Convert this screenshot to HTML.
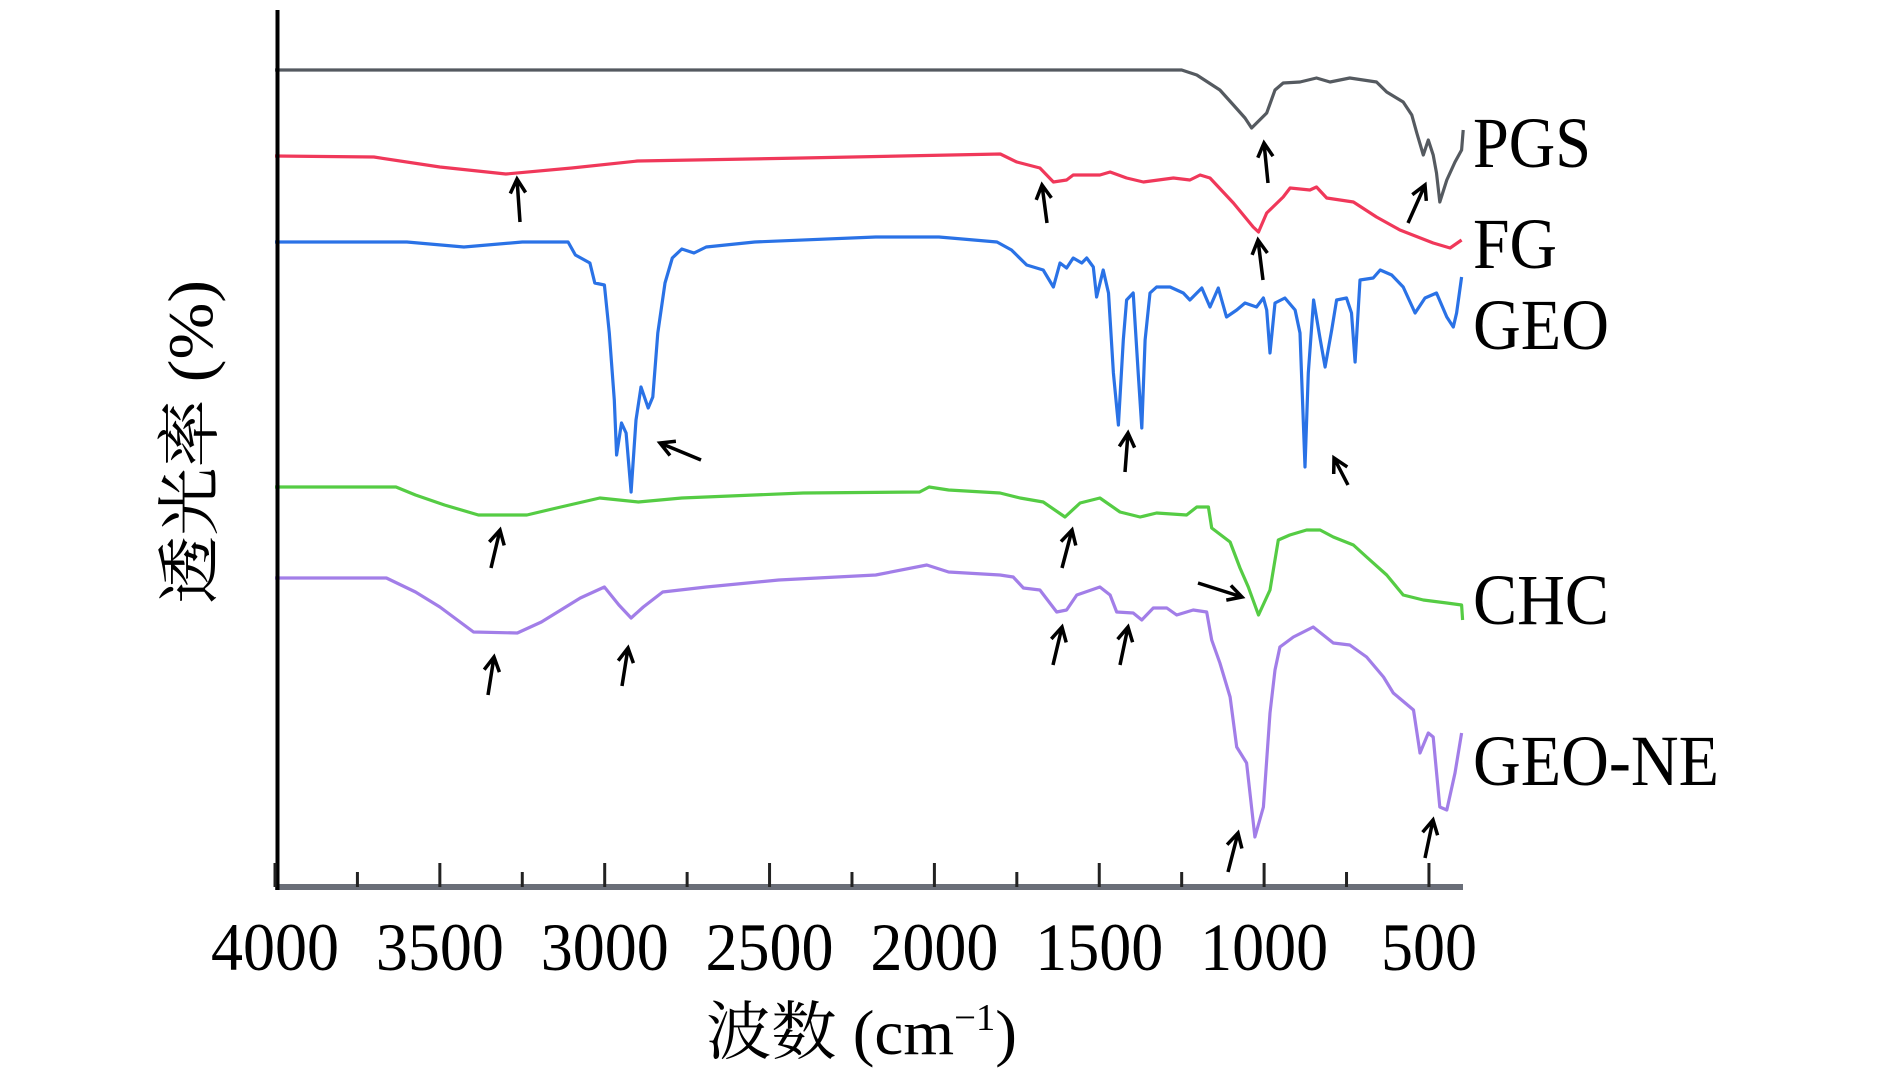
<!DOCTYPE html>
<html><head><meta charset="utf-8"><style>
html,body{margin:0;padding:0;background:#fff;}
svg{display:block;}
text{font-family:"Liberation Serif","Noto Serif CJK SC",serif;fill:#000;}
</style></head><body>
<svg id="chart" width="1890" height="1079" viewBox="0 0 1890 1079" xmlns="http://www.w3.org/2000/svg">
<g id="series"></g>
<g id="arrows"></g>
<g id="axes"></g>
</svg>
<script>
const xTicks=[4000,3750,3500,3250,3000,2750,2500,2250,2000,1750,1500,1250,1000,750,500];
const xTickLabels=["4000","3500","3000","2500","2000","1500","1000","500"];
const seriesNames=["PGS","FG","GEO","CHC","GEO-NE"];
const pgsWn=[4000,1250,1204,1134,1093,1058,1038,992,967,942,891,841,800,740,659,628,578,552,537,517,502,487,477,467,446,421,401,396];
const pgsT=[817,817,812,797,782,769,759,774,797,804,805,809,805,809,805,795,785,772,754,732,747,732,714,685,707,725,737,757];
const fgWn=[4000,3700,3500,3300,3100,2900,2400,1800,1750,1680,1639,1599,1579,1498,1467,1417,1366,1275,1225,1194,1164,1093,1033,1017,992,942,921,861,841,810,729,659,588,487,436,401];
const fgT=[731,730,720,713,719,726,729,733,725,719,705,707,712,712,715,709,705,709,707,712,709,684,660,655,674,690,699,697,700,689,685,670,657,644,639,647];
const geoWn=[4000,3600,3427,3250,3111,3089,3045,3030,3001,2986,2971,2964,2949,2935,2920,2905,2890,2868,2854,2839,2817,2795,2766,2729,2692,2545,2178,1986,1810,1766,1720,1670,1639,1619,1599,1579,1553,1538,1518,1508,1488,1472,1457,1442,1427,1417,1397,1382,1371,1361,1346,1326,1285,1245,1225,1189,1164,1139,1114,1083,1058,1023,1002,992,982,967,937,906,891,876,866,850,831,815,795,780,750,735,724,709,669,648,613,578,542,512,477,446,426,416,401];
const geoT=[645,645,640,645,645,632,624,604,602,554,487,432,464,454,395,467,500,479,490,554,604,629,638,634,640,645,650,650,645,637,622,617,600,624,619,629,624,629,620,590,617,594,514,462,547,587,594,514,459,547,594,600,600,594,587,599,580,599,570,577,584,580,589,577,534,584,589,577,554,420,514,587,550,520,557,587,589,574,525,607,609,617,612,600,574,589,594,570,560,574,610];
const chcWn=[4000,3633,3574,3486,3383,3236,3133,3015,2898,2766,2398,2045,2016,1957,1801,1740,1670,1604,1558,1498,1437,1376,1326,1235,1204,1169,1159,1103,1073,1048,1017,982,957,922,871,830,790,729,689,628,578,517,446,401,398];
const chcT=[400,400,392,382,372,372,380,389,385,389,394,395,400,397,394,389,385,370,384,389,375,370,374,372,380,380,359,345,319,300,272,297,347,352,357,357,350,342,330,312,292,287,284,282,267];
const geoneWn=[4000,3662,3574,3500,3398,3265,3192,3074,3001,2957,2920,2883,2824,2692,2472,2178,2023,1957,1801,1761,1730,1680,1629,1599,1568,1498,1467,1447,1397,1371,1336,1295,1265,1215,1174,1159,1134,1103,1083,1053,1028,1002,982,967,952,911,851,790,740,689,638,608,547,527,502,487,467,446,421,401];
const geoneT=[309,309,295,280,255,254,265,289,300,282,269,280,295,300,307,312,322,315,312,310,299,297,275,277,292,300,292,275,274,267,279,279,272,277,275,247,224,190,140,124,50,80,174,217,240,250,260,244,242,230,210,194,177,134,154,150,80,77,114,154];
const seriesColors=["#555a60","#f0385a","#2a72e6","#55cc44","#a27ee8"];
const labelBaselines=[167,268,349,624,785];
const labelWidths=[118,84,136,136,246];

const X0=275, PXU=0.3297, Y0=887;
function xScale(wn){return X0+(4000-wn)*PXU;}
function yScale(t){return Y0-t;}
const NS="http://www.w3.org/2000/svg";
function mk(tag,attrs,parent){const e=document.createElementNS(NS,tag);for(const k in attrs)e.setAttribute(k,attrs[k]);parent.appendChild(e);return e;}

const sg=document.getElementById('series');
const allWn=[pgsWn,fgWn,geoWn,chcWn,geoneWn], allT=[pgsT,fgT,geoT,chcT,geoneT];
allWn.forEach((w,i)=>{
  const pts=w.map((v,j)=>xScale(v).toFixed(1)+","+yScale(allT[i][j]).toFixed(1)).join(" ");
  const pl=mk('polyline',{points:pts,fill:'none',stroke:seriesColors[i],'stroke-width':3.2,'stroke-linejoin':'round'},sg);
  
  
  const t=mk('text',{x:1473,y:labelBaselines[i],'font-size':72,textLength:labelWidths[i],lengthAdjust:'spacingAndGlyphs'},sg);
  t.textContent=seriesNames[i];
  
  
});

const arrowCoords=[[1268,183,1264,143],[1408,223,1425,185],[520,222,517,179],[1047,223,1042,185],[1263,280,1258,240],[701,460,660,443],[1125,472,1128,433],[1348,485,1334,458],[491,568,500,530],[1062,568,1072,530],[1198,583,1242,597],[1053,665,1062,627],[1120,665,1128,627],[1228,872,1238,833],[1425,858,1433,820],[488,695,494,657],[622,686,628,648]];
const ag=document.getElementById('arrows');
arrowCoords.forEach(a=>{
  const [x1,y1,x2,y2]=a;const ang=Math.atan2(y2-y1,x2-x1);const L=16,W=0.5;
  const p1=[x2-L*Math.cos(ang-W),y2-L*Math.sin(ang-W)],p2=[x2-L*Math.cos(ang+W),y2-L*Math.sin(ang+W)];
  const p=mk('path',{d:`M${x1},${y1}L${x2},${y2}M${p1[0].toFixed(1)},${p1[1].toFixed(1)}L${x2},${y2}L${p2[0].toFixed(1)},${p2[1].toFixed(1)}`,fill:'none',stroke:'#000','stroke-width':3.5},ag);
  
  
});

const ax=document.getElementById('axes');
const xa=mk('line',{x1:X0,y1:Y0,x2:1463,y2:Y0,stroke:'#6a6e78','stroke-width':6},ax);


const ya=mk('line',{x1:277.5,y1:10,x2:277.5,y2:890,stroke:'#000','stroke-width':4},ax);


xTicks.forEach(v=>{
  const major=v%500===0;
  const tk=mk('line',{x1:xScale(v),y1:Y0-(major?24:15),x2:xScale(v),y2:Y0,stroke:'#222','stroke-width':3},ax);
  
  
});
xTickLabels.forEach(s=>{
  const v=+s;
  const t=mk('text',{x:xScale(v),y:970,'font-size':68,'text-anchor':'middle',textLength:s.length*32,lengthAdjust:'spacingAndGlyphs'},ax);
  t.textContent=s;
  
  
});
const xt=mk('text',{x:706,y:1054,'font-size':64,textLength:311,lengthAdjust:'spacingAndGlyphs'},ax);
xt.innerHTML='波数 (cm<tspan dy="-24" font-size="38">−1</tspan><tspan dy="24">)</tspan>';


const yt=mk('text',{x:0,y:0,'font-size':64,'text-anchor':'middle',transform:'translate(212,442) rotate(-90)',textLength:324,lengthAdjust:'spacingAndGlyphs'},ax);
yt.textContent='透光率 (%)';


</script>
</body></html>
